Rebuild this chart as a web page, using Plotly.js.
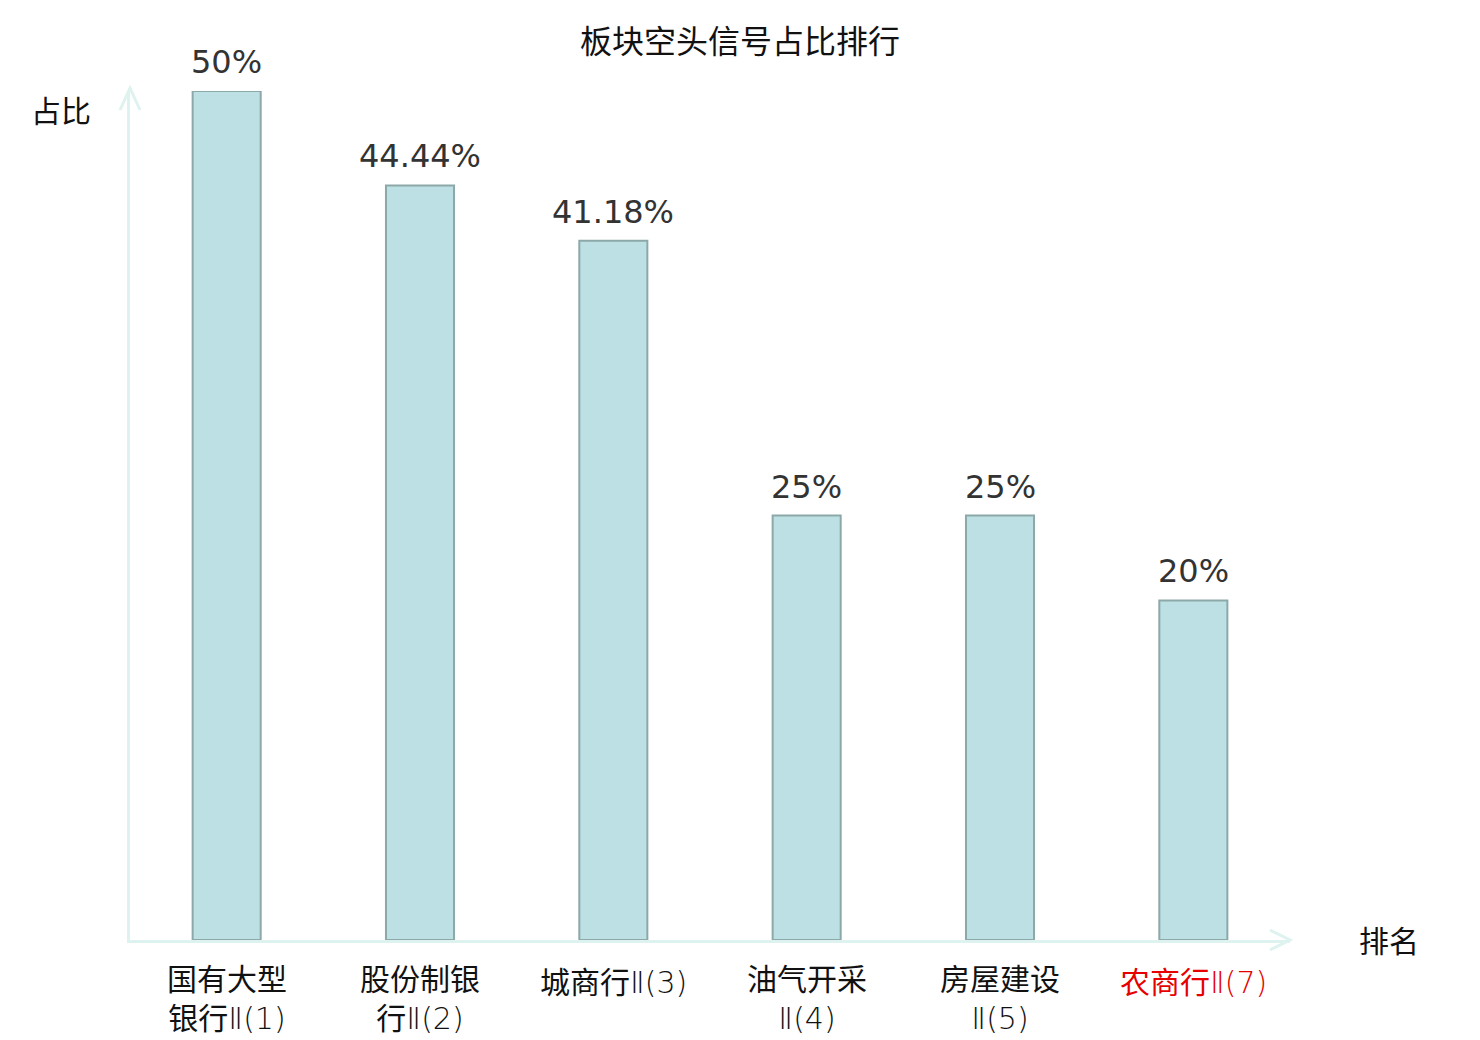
<!DOCTYPE html>
<html>
<head>
<meta charset="utf-8">
<script src="https://cdn.plot.ly/plotly-3.0.1.min.js"></script>
<style>
  html, body { margin: 0; padding: 0; background: #fff; }
  #chart { width: 1480px; height: 1040px; }
</style>
</head>
<body>
<div id="chart"></div>
<script>
const categories = ["国有大型银行Ⅱ(1)", "股份制银行Ⅱ(2)", "城商行Ⅱ(3)", "油气开采Ⅱ(4)", "房屋建设Ⅱ(5)", "农商行Ⅱ(7)"];
const labelCjk = ["国有大型<br>银行", "股份制银<br>行", "城商行", "油气开采<br>", "房屋建设<br>", "农商行"];
const labelSuffix = ["Ⅱ(1)", "Ⅱ(2)", "Ⅱ(3)", "Ⅱ(4)", "Ⅱ(5)", "Ⅱ(7)"];
const highlight = [false, false, false, false, false, true];
const values = [50, 44.44, 41.18, 25, 25, 20];

const FONT = "DejaVu Sans, Noto Sans CJK SC, sans-serif";
const AXIS = "rgb(222,242,240)";

const data = [{
  type: "bar",
  x: categories,
  y: values,
  width: 0.352,
  marker: {
    color: "rgb(188,224,227)",
    line: { color: "rgb(140,168,168)", width: 2 },
  },
  hoverinfo: "x+y",
}];

// value labels above bars
const annotations = values.map((v, i) => ({
  x: categories[i],
  y: v,
  xref: "x",
  yref: "y",
  text: v + "%",
  showarrow: false,
  yanchor: "bottom",
  yshift: 8,
  font: { family: FONT, size: 32, color: "#333" },
}));

// category labels under the axis
categories.forEach((c, i) => {
  const twoLines = labelCjk[i].indexOf("<br>") >= 0;
  annotations.push({
    x: c, y: 0, xref: "x", yref: "paper",
    text: labelCjk[i] + '<span style="font-family:\'DejaVu Sans\';font-weight:200">' + labelSuffix[i] + "</span>",
    showarrow: false,
    yanchor: "top", yshift: twoLines ? -20 : -23,
    font: { family: FONT, size: 30, color: highlight[i] ? "rgb(230,0,0)" : "#111" },
  });
});

annotations.push({
  xref: "paper", yref: "paper", x: -0.032, y: 0.976,
  xanchor: "right", yanchor: "middle",
  text: "占比", showarrow: false,
  font: { family: FONT, size: 30, color: "#111" },
});
annotations.push({
  xref: "paper", yref: "paper", x: 1.113, y: -0.002,
  xanchor: "right", yanchor: "middle",
  text: "排名", showarrow: false,
  font: { family: FONT, size: 30, color: "#111" },
});

// arrow heads at the ends of both axes (paper coords)
const sx = 1 / 1160, sy = 1 / 849;
const shapes = [
  {
    type: "path", xref: "paper", yref: "paper",
    path: `M 0 1 L 0 ${1 + 3 * sy}`,
    line: { color: AXIS, width: 3 },
  },
  {
    type: "path", xref: "paper", yref: "paper",
    path: `M ${-10 * sx} ${1 - 19 * sy} L 0 ${1 + 3 * sy} L ${10 * sx} ${1 - 19 * sy}`,
    line: { color: AXIS, width: 3 },
  },
  {
    type: "path", xref: "paper", yref: "paper",
    path: `M ${1 - 20 * sx} ${10 * sy} L 1 0 L ${1 - 20 * sx} ${-10 * sy}`,
    line: { color: AXIS, width: 3 },
  },
];

const layout = {
  width: 1480,
  height: 1040,
  margin: { l: 130, r: 190, t: 91, b: 100 },
  paper_bgcolor: "#fff",
  plot_bgcolor: "#fff",
  showlegend: false,
  title: {
    text: "板块空头信号占比排行",
    x: 0.5, xref: "container", xanchor: "center",
    y: 1 - 42 / 1040, yanchor: "middle",
    font: { family: FONT, size: 32, color: "#111" },
  },
  xaxis: {
    type: "category",
    range: [-0.5, 5.5],
    showline: true,
    linecolor: AXIS,
    linewidth: 3,
    showgrid: false,
    zeroline: false,
    ticks: "",
    showticklabels: false,
  },
  yaxis: {
    range: [0, 50],
    showline: true,
    linecolor: AXIS,
    linewidth: 3,
    showgrid: false,
    zeroline: false,
    showticklabels: false,
    ticks: "",
  },
  annotations: annotations,
  shapes: shapes,
};

Plotly.newPlot("chart", data, layout, { displayModeBar: false });
</script>
</body>
</html>
